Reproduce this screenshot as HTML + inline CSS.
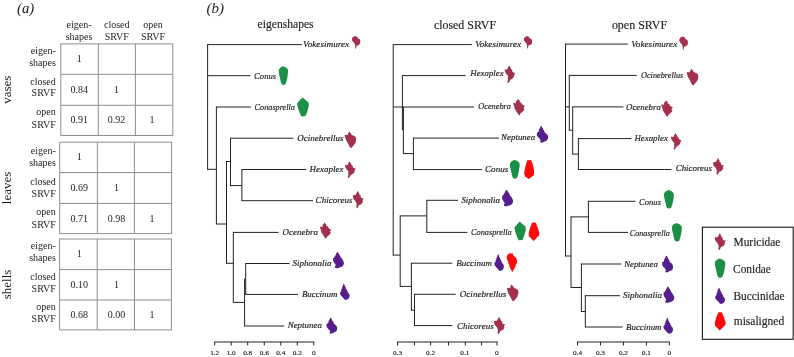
<!DOCTYPE html>
<html lang="en">
<head>
<meta charset="utf-8">
<title>Figure: correlation tables and dendrograms</title>
<style>
html,body{margin:0;padding:0;background:#fff;}
body{width:794px;height:357px;overflow:hidden;font-family:"Liberation Serif","Times New Roman",serif;}
svg{display:block;}
</style>
</head>
<body>
<svg width="794" height="357" viewBox="0 0 794 357" font-family="'Liberation Serif', 'Times New Roman', serif">
<rect width="794" height="357" fill="#ffffff"/>
<text x="17.00" y="12.60" font-size="14" text-anchor="start" font-style="italic" textLength="17.30" lengthAdjust="spacingAndGlyphs" fill="#1c1c1c">(a)</text>
<text x="79.00" y="28.30" font-size="10" text-anchor="middle" fill="#1c1c1c">eigen-</text>
<text x="79.00" y="40.30" font-size="10" text-anchor="middle" fill="#1c1c1c">shapes</text>
<text x="116.80" y="28.30" font-size="10" text-anchor="middle" fill="#1c1c1c">closed</text>
<text x="116.80" y="40.30" font-size="10" text-anchor="middle" fill="#1c1c1c">SRVF</text>
<text x="153.00" y="28.30" font-size="10" text-anchor="middle" fill="#1c1c1c">open</text>
<text x="153.00" y="40.30" font-size="10" text-anchor="middle" fill="#1c1c1c">SRVF</text>
<rect x="60.8" y="43.9" width="112.00" height="91.60" fill="none" stroke="#8e8e8e" stroke-width="1"/>
<line x1="60.80" y1="74.30" x2="172.80" y2="74.30" stroke="#8e8e8e" stroke-width="1"/>
<line x1="60.80" y1="105.30" x2="172.80" y2="105.30" stroke="#8e8e8e" stroke-width="1"/>
<line x1="98.30" y1="43.90" x2="98.30" y2="135.50" stroke="#8e8e8e" stroke-width="1"/>
<line x1="135.40" y1="43.90" x2="135.40" y2="135.50" stroke="#8e8e8e" stroke-width="1"/>
<text x="55.80" y="53.70" font-size="10" text-anchor="end" fill="#1c1c1c">eigen-</text>
<text x="55.80" y="65.70" font-size="10" text-anchor="end" fill="#1c1c1c">shapes</text>
<text x="79.20" y="62.20" font-size="10" text-anchor="middle" fill="#1c1c1c">1</text>
<text x="55.80" y="84.60" font-size="10" text-anchor="end" fill="#1c1c1c">closed</text>
<text x="55.80" y="96.40" font-size="10" text-anchor="end" fill="#1c1c1c">SRVF</text>
<text x="79.20" y="92.70" font-size="10" text-anchor="middle" fill="#1c1c1c">0.84</text>
<text x="116.50" y="92.70" font-size="10" text-anchor="middle" fill="#1c1c1c">1</text>
<text x="55.80" y="115.30" font-size="10" text-anchor="end" fill="#1c1c1c">open</text>
<text x="55.80" y="127.70" font-size="10" text-anchor="end" fill="#1c1c1c">SRVF</text>
<text x="79.20" y="123.40" font-size="10" text-anchor="middle" fill="#1c1c1c">0.91</text>
<text x="116.50" y="123.40" font-size="10" text-anchor="middle" fill="#1c1c1c">0.92</text>
<text x="152.10" y="123.40" font-size="10" text-anchor="middle" fill="#1c1c1c">1</text>
<text transform="translate(11.4,89.70) rotate(-90)" font-size="13" text-anchor="middle" fill="#1c1c1c">vases</text>
<rect x="59.7" y="142.2" width="111.90" height="91.40" fill="none" stroke="#8e8e8e" stroke-width="1"/>
<line x1="59.70" y1="172.60" x2="171.60" y2="172.60" stroke="#8e8e8e" stroke-width="1"/>
<line x1="59.70" y1="203.40" x2="171.60" y2="203.40" stroke="#8e8e8e" stroke-width="1"/>
<line x1="97.40" y1="142.20" x2="97.40" y2="233.60" stroke="#8e8e8e" stroke-width="1"/>
<line x1="134.40" y1="142.20" x2="134.40" y2="233.60" stroke="#8e8e8e" stroke-width="1"/>
<text x="55.80" y="153.60" font-size="10" text-anchor="end" fill="#1c1c1c">eigen-</text>
<text x="55.80" y="165.70" font-size="10" text-anchor="end" fill="#1c1c1c">shapes</text>
<text x="79.20" y="160.40" font-size="10" text-anchor="middle" fill="#1c1c1c">1</text>
<text x="55.80" y="184.80" font-size="10" text-anchor="end" fill="#1c1c1c">closed</text>
<text x="55.80" y="196.80" font-size="10" text-anchor="end" fill="#1c1c1c">SRVF</text>
<text x="79.20" y="191.10" font-size="10" text-anchor="middle" fill="#1c1c1c">0.69</text>
<text x="116.50" y="191.10" font-size="10" text-anchor="middle" fill="#1c1c1c">1</text>
<text x="55.80" y="215.40" font-size="10" text-anchor="end" fill="#1c1c1c">open</text>
<text x="55.80" y="227.90" font-size="10" text-anchor="end" fill="#1c1c1c">SRVF</text>
<text x="79.20" y="221.70" font-size="10" text-anchor="middle" fill="#1c1c1c">0.71</text>
<text x="116.50" y="221.70" font-size="10" text-anchor="middle" fill="#1c1c1c">0.98</text>
<text x="152.10" y="221.70" font-size="10" text-anchor="middle" fill="#1c1c1c">1</text>
<text transform="translate(11.4,187.90) rotate(-90)" font-size="13" text-anchor="middle" fill="#1c1c1c">leaves</text>
<rect x="59.6" y="239.0" width="111.80" height="90.90" fill="none" stroke="#8e8e8e" stroke-width="1"/>
<line x1="59.60" y1="269.60" x2="171.40" y2="269.60" stroke="#8e8e8e" stroke-width="1"/>
<line x1="59.60" y1="300.00" x2="171.40" y2="300.00" stroke="#8e8e8e" stroke-width="1"/>
<line x1="97.20" y1="239.00" x2="97.20" y2="329.90" stroke="#8e8e8e" stroke-width="1"/>
<line x1="134.50" y1="239.00" x2="134.50" y2="329.90" stroke="#8e8e8e" stroke-width="1"/>
<text x="55.80" y="248.60" font-size="10" text-anchor="end" fill="#1c1c1c">eigen-</text>
<text x="55.80" y="260.70" font-size="10" text-anchor="end" fill="#1c1c1c">shapes</text>
<text x="79.20" y="257.20" font-size="10" text-anchor="middle" fill="#1c1c1c">1</text>
<text x="55.80" y="279.60" font-size="10" text-anchor="end" fill="#1c1c1c">closed</text>
<text x="55.80" y="291.60" font-size="10" text-anchor="end" fill="#1c1c1c">SRVF</text>
<text x="79.20" y="287.70" font-size="10" text-anchor="middle" fill="#1c1c1c">0.10</text>
<text x="116.50" y="287.70" font-size="10" text-anchor="middle" fill="#1c1c1c">1</text>
<text x="55.80" y="310.20" font-size="10" text-anchor="end" fill="#1c1c1c">open</text>
<text x="55.80" y="322.20" font-size="10" text-anchor="end" fill="#1c1c1c">SRVF</text>
<text x="79.20" y="318.30" font-size="10" text-anchor="middle" fill="#1c1c1c">0.68</text>
<text x="116.50" y="318.30" font-size="10" text-anchor="middle" fill="#1c1c1c">0.00</text>
<text x="152.10" y="318.30" font-size="10" text-anchor="middle" fill="#1c1c1c">1</text>
<text transform="translate(11.4,284.45) rotate(-90)" font-size="13" text-anchor="middle" fill="#1c1c1c">shells</text>
<text x="206.40" y="12.50" font-size="14" text-anchor="start" font-style="italic" textLength="17.50" lengthAdjust="spacingAndGlyphs" fill="#1c1c1c">(b)</text>
<text x="257.60" y="27.70" font-size="12" text-anchor="start" textLength="56.00" lengthAdjust="spacingAndGlyphs" fill="#1c1c1c" stroke="#1c1c1c" stroke-width="0.15">eigenshapes</text>
<text x="433.90" y="29.20" font-size="12" text-anchor="start" textLength="62.20" lengthAdjust="spacingAndGlyphs" fill="#1c1c1c" stroke="#1c1c1c" stroke-width="0.15">closed SRVF</text>
<text x="611.90" y="28.50" font-size="12" text-anchor="start" textLength="55.20" lengthAdjust="spacingAndGlyphs" fill="#1c1c1c" stroke="#1c1c1c" stroke-width="0.15">open SRVF</text>
<line x1="207.60" y1="44.10" x2="207.60" y2="169.80" stroke="#222222" stroke-width="1.0"/>
<line x1="207.60" y1="44.60" x2="301.90" y2="44.60" stroke="#222222" stroke-width="1.0"/>
<text x="303.10" y="46.50" font-size="9.2" text-anchor="start" font-style="italic" textLength="46.10" lengthAdjust="spacingAndGlyphs" fill="#1c1c1c" stroke="#1c1c1c" stroke-width="0.18">Vokesimurex</text>
<path transform="translate(351.80,35.90) scale(1.0000,1.0159)" d="M3.5,0 L5.6,1 L6.1,2.5 L7.8,3 L8.6,5.1 L8.3,7.6 L6.6,9.1 L4.8,9.6 L4.15,12.6 L3.55,12.6 L3.4,9.3 L2.8,7.6 L1.5,6.1 L0.25,4.5 L0.25,2.3 L1.5,0.8 Z" fill="#a3304f"/>
<line x1="207.60" y1="75.70" x2="250.40" y2="75.70" stroke="#222222" stroke-width="1.0"/>
<text x="254.10" y="78.50" font-size="9.2" text-anchor="start" font-style="italic" textLength="22.00" lengthAdjust="spacingAndGlyphs" fill="#1c1c1c" stroke="#1c1c1c" stroke-width="0.18">Conus</text>
<path transform="translate(278.75,66.30) scale(1.0000,1.0000)" d="M4.15,0 L6.8,0.9 L9,2.9 L9.35,5.4 L8.7,10.6 L7.7,15.1 L6.8,17.7 L5.2,18.6 L3.2,18.3 L2.3,16.4 L1.3,11.9 L0.1,6.1 L0.1,3.2 L1.9,1.2 Z" fill="#1a8f45"/>
<line x1="207.60" y1="169.30" x2="216.40" y2="169.30" stroke="#222222" stroke-width="1.0"/>
<line x1="216.40" y1="106.50" x2="216.40" y2="224.50" stroke="#222222" stroke-width="1.0"/>
<line x1="216.40" y1="107.00" x2="250.85" y2="107.00" stroke="#222222" stroke-width="1.0"/>
<text x="254.60" y="110.40" font-size="9.2" text-anchor="start" font-style="italic" textLength="40.30" lengthAdjust="spacingAndGlyphs" fill="#1c1c1c" stroke="#1c1c1c" stroke-width="0.18">Conasprella</text>
<path transform="translate(297.00,97.50) scale(1.0000,1.0000)" d="M5.5,0 L8.5,2.6 L11.6,5.1 L11.8,8.6 L10.1,14.7 L8.3,18.7 L4.5,18.9 L3,16.2 L1,10.6 L0,6.1 L2,3.6 Z" fill="#1a8f45"/>
<line x1="216.40" y1="224.00" x2="226.50" y2="224.00" stroke="#222222" stroke-width="1.0"/>
<line x1="226.50" y1="161.00" x2="226.50" y2="263.80" stroke="#222222" stroke-width="1.0"/>
<line x1="226.50" y1="161.50" x2="230.50" y2="161.50" stroke="#222222" stroke-width="1.0"/>
<line x1="230.50" y1="137.70" x2="230.50" y2="186.10" stroke="#222222" stroke-width="1.0"/>
<line x1="230.50" y1="138.20" x2="293.50" y2="138.20" stroke="#222222" stroke-width="1.0"/>
<text x="297.30" y="140.80" font-size="9.2" text-anchor="start" font-style="italic" textLength="46.20" lengthAdjust="spacingAndGlyphs" fill="#1c1c1c" stroke="#1c1c1c" stroke-width="0.18">Ocinebrellus</text>
<path transform="translate(344.60,131.35) scale(1.0000,1.0000)" d="M4.75,0 L5.55,1.35 L6.8,2.3 L6.6,3.1 L8,3.8 L9.25,4.3 L10.5,5.05 L11.4,6.3 L11.5,8.45 L11.1,10.3 L10.5,12.15 L9.25,13.7 L8,15.2 L6.8,16.75 L5.55,16.15 L4.6,14.6 L3.7,12.75 L2.75,10.9 L1.85,9.35 L0.9,7.5 L0.79,6.35 L0.2,5.35 L0,3.8 L1.25,3.35 L2.45,3.8 L3.4,2.9 L3.9,1.35 Z" fill="#a3304f"/>
<line x1="230.50" y1="185.60" x2="241.90" y2="185.60" stroke="#222222" stroke-width="1.0"/>
<line x1="241.90" y1="169.00" x2="241.90" y2="201.20" stroke="#222222" stroke-width="1.0"/>
<line x1="241.90" y1="169.50" x2="306.10" y2="169.50" stroke="#222222" stroke-width="1.0"/>
<text x="309.60" y="171.90" font-size="9.2" text-anchor="start" font-style="italic" textLength="33.80" lengthAdjust="spacingAndGlyphs" fill="#1c1c1c" stroke="#1c1c1c" stroke-width="0.18">Hexaplex</text>
<path transform="translate(344.80,161.15) scale(1.0000,1.0000)" d="M4.75,0 L5.65,1.85 L6.6,2.75 L6.4,3.7 L7.8,4.3 L7.8,5.55 L8.85,6.8 L10.9,7.4 L10,8.95 L9.65,10.8 L8.45,12.3 L6.9,13.25 L5.65,14 L5.05,15.4 L3.8,17.05 L2.9,16.65 L3.2,15.1 L3.7,13.55 L3.3,12 L3.7,10.45 L2.9,9.25 L1.35,7.7 L0.45,5.85 L0,4 L1.05,3.9 L2.3,4.3 L3.2,3.1 L3.8,1.55 Z" fill="#a3304f"/>
<line x1="241.90" y1="200.70" x2="313.10" y2="200.70" stroke="#222222" stroke-width="1.0"/>
<text x="315.60" y="203.20" font-size="9.2" text-anchor="start" font-style="italic" textLength="36.90" lengthAdjust="spacingAndGlyphs" fill="#1c1c1c" stroke="#1c1c1c" stroke-width="0.18">Chicoreus</text>
<path transform="translate(352.80,190.80) scale(1.0000,1.0265)" d="M5.1,0 L6,2.15 L6.8,3.1 L6.45,4 L8,4.6 L7.8,5.85 L8.6,7.1 L10.9,7.4 L9.85,8.95 L10.05,10.8 L8.95,12.65 L7.4,13.55 L6.15,13.85 L5.55,15.4 L4.6,16.95 L3.7,16.65 L3.5,15.1 L3.9,13.55 L3.5,12 L2.75,10.15 L1.25,8.6 L0.3,6.8 L0,4.6 L0.9,4 L2.15,4.3 L3.4,3.1 L4,1.55 Z" fill="#a3304f"/>
<line x1="226.50" y1="263.30" x2="233.30" y2="263.30" stroke="#222222" stroke-width="1.0"/>
<line x1="233.30" y1="231.90" x2="233.30" y2="302.90" stroke="#222222" stroke-width="1.0"/>
<line x1="233.30" y1="232.40" x2="278.60" y2="232.40" stroke="#222222" stroke-width="1.0"/>
<text x="282.60" y="234.80" font-size="9.2" text-anchor="start" font-style="italic" textLength="35.30" lengthAdjust="spacingAndGlyphs" fill="#1c1c1c" stroke="#1c1c1c" stroke-width="0.18">Ocenebra</text>
<path transform="translate(319.80,222.50) scale(1.0000,1.0125)" d="M4.75,0 L5.35,1.25 L6.3,1.35 L6.6,2.15 L6.15,2.75 L7.2,3.7 L8.15,3.7 L8.25,4.95 L9.65,6.15 L11.5,7.1 L10.6,8.3 L10,8.95 L11.1,10.15 L10.3,11.4 L9.05,12.65 L7.8,13.55 L6.9,14.5 L6.4,16 L5.35,15.4 L4.45,14.2 L3.8,12.95 L2.6,11.4 L1.65,9.85 L1.25,8 L0.75,6.45 L0,4.3 L1.05,4 L2.3,4.6 L2.9,3.4 L2.6,2.45 L3.7,1.85 L4.15,0.9 Z" fill="#a3304f"/>
<line x1="233.30" y1="302.40" x2="244.60" y2="302.40" stroke="#222222" stroke-width="1.0"/>
<line x1="244.60" y1="278.40" x2="244.60" y2="326.50" stroke="#222222" stroke-width="1.0"/>
<line x1="245.70" y1="263.00" x2="245.70" y2="294.90" stroke="#222222" stroke-width="1.0"/>
<line x1="245.70" y1="263.50" x2="289.60" y2="263.50" stroke="#222222" stroke-width="1.0"/>
<text x="292.60" y="265.90" font-size="9.2" text-anchor="start" font-style="italic" textLength="38.90" lengthAdjust="spacingAndGlyphs" fill="#1c1c1c" stroke="#1c1c1c" stroke-width="0.18">Siphonalia</text>
<path transform="translate(333.05,251.70) scale(1.0000,1.0123)" d="M4.3,0 L5.4,1.55 L6.65,3.4 L7.6,4.95 L7.45,5.55 L8.8,6.8 L9.75,8.3 L10.65,10.15 L10.85,12 L10.05,13.85 L8.5,15.1 L6.35,15.7 L4.2,16.3 L2.2,16.15 L1.85,14.8 L2.65,13.25 L1.7,11.7 L0.6,10.15 L0,8.3 L0.2,6.45 L1.4,5.25 L2.35,3.7 L3.25,1.85 Z" fill="#551e8c"/>
<line x1="245.70" y1="294.40" x2="298.00" y2="294.40" stroke="#222222" stroke-width="1.0"/>
<text x="301.90" y="297.00" font-size="9.2" text-anchor="start" font-style="italic" textLength="35.40" lengthAdjust="spacingAndGlyphs" fill="#1c1c1c" stroke="#1c1c1c" stroke-width="0.18">Buccinum</text>
<path transform="translate(340.05,283.40) scale(1.0000,1.0000)" d="M3.7,0 L4.85,2 L4.5,2.6 L5.9,4.2 L5.55,4.8 L6.9,6.2 L6.55,6.9 L7.9,8.2 L7.55,9 L8.75,9.85 L9.5,11.7 L9.35,13.85 L8.15,15.7 L6,16.65 L4.45,16.2 L3.2,14.5 L1.65,12.95 L0.1,11.1 L0,9.25 L0.85,8 L1.5,6.8 L1.15,6.1 L2.3,4.6 L2,3.9 L2.9,2.3 L2.9,1.85 Z" fill="#551e8c"/>
<line x1="244.60" y1="326.00" x2="284.30" y2="326.00" stroke="#222222" stroke-width="1.0"/>
<text x="287.70" y="328.40" font-size="9.2" text-anchor="start" font-style="italic" textLength="34.20" lengthAdjust="spacingAndGlyphs" fill="#1c1c1c" stroke="#1c1c1c" stroke-width="0.18">Neptunea</text>
<path transform="translate(326.40,317.40) scale(1.0000,1.0000)" d="M4.15,0 L5.2,1.55 L6,2.75 L5.8,3.25 L6.9,4.3 L7.5,5.55 L7.2,6 L8.6,7.1 L10,8.3 L10.7,10.15 L10.7,12.3 L9.65,14.2 L7.5,15.1 L5.35,16.2 L3.8,16.45 L3.2,15.4 L3.8,14.2 L2.9,12.6 L1.65,11.4 L0.45,9.85 L0,8 L0.45,6.45 L1.65,5.75 L2.3,4.3 L1.95,3.9 L3.1,2.45 L3.35,1.25 Z" fill="#551e8c"/>
<line x1="214.20" y1="342.00" x2="314.30" y2="342.00" stroke="#222222" stroke-width="1.0"/>
<line x1="214.70" y1="342.00" x2="214.70" y2="345.50" stroke="#222222" stroke-width="1.0"/>
<text x="214.70" y="354.60" font-size="6.9" text-anchor="middle" textLength="9.10" lengthAdjust="spacingAndGlyphs" fill="#1c1c1c" stroke="#1c1c1c" stroke-width="0.15">1.2</text>
<line x1="231.22" y1="342.00" x2="231.22" y2="345.50" stroke="#222222" stroke-width="1.0"/>
<text x="231.22" y="354.60" font-size="6.9" text-anchor="middle" textLength="9.10" lengthAdjust="spacingAndGlyphs" fill="#1c1c1c" stroke="#1c1c1c" stroke-width="0.15">1.0</text>
<line x1="247.73" y1="342.00" x2="247.73" y2="345.50" stroke="#222222" stroke-width="1.0"/>
<text x="247.73" y="354.60" font-size="6.9" text-anchor="middle" textLength="9.10" lengthAdjust="spacingAndGlyphs" fill="#1c1c1c" stroke="#1c1c1c" stroke-width="0.15">0.8</text>
<line x1="264.25" y1="342.00" x2="264.25" y2="345.50" stroke="#222222" stroke-width="1.0"/>
<text x="264.25" y="354.60" font-size="6.9" text-anchor="middle" textLength="9.10" lengthAdjust="spacingAndGlyphs" fill="#1c1c1c" stroke="#1c1c1c" stroke-width="0.15">0.6</text>
<line x1="280.77" y1="342.00" x2="280.77" y2="345.50" stroke="#222222" stroke-width="1.0"/>
<text x="280.77" y="354.60" font-size="6.9" text-anchor="middle" textLength="9.10" lengthAdjust="spacingAndGlyphs" fill="#1c1c1c" stroke="#1c1c1c" stroke-width="0.15">0.4</text>
<line x1="297.28" y1="342.00" x2="297.28" y2="345.50" stroke="#222222" stroke-width="1.0"/>
<text x="297.28" y="354.60" font-size="6.9" text-anchor="middle" textLength="9.10" lengthAdjust="spacingAndGlyphs" fill="#1c1c1c" stroke="#1c1c1c" stroke-width="0.15">0.2</text>
<line x1="313.80" y1="342.00" x2="313.80" y2="345.50" stroke="#222222" stroke-width="1.0"/>
<text x="313.80" y="354.60" font-size="6.9" text-anchor="middle" textLength="3.70" lengthAdjust="spacingAndGlyphs" fill="#1c1c1c" stroke="#1c1c1c" stroke-width="0.15">0</text>
<line x1="393.20" y1="44.10" x2="393.20" y2="255.60" stroke="#222222" stroke-width="1.0"/>
<line x1="393.20" y1="44.60" x2="471.90" y2="44.60" stroke="#222222" stroke-width="1.0"/>
<text x="475.20" y="46.70" font-size="9.2" text-anchor="start" font-style="italic" textLength="45.80" lengthAdjust="spacingAndGlyphs" fill="#1c1c1c" stroke="#1c1c1c" stroke-width="0.18">Vokesimurex</text>
<path transform="translate(523.70,36.10) scale(0.9884,0.9841)" d="M3.5,0 L5.6,1 L6.1,2.5 L7.8,3 L8.6,5.1 L8.3,7.6 L6.6,9.1 L4.8,9.6 L4.15,12.6 L3.55,12.6 L3.4,9.3 L2.8,7.6 L1.5,6.1 L0.25,4.5 L0.25,2.3 L1.5,0.8 Z" fill="#a3304f"/>
<line x1="402.40" y1="75.10" x2="402.40" y2="130.30" stroke="#222222" stroke-width="1.0"/>
<line x1="402.40" y1="75.60" x2="465.70" y2="75.60" stroke="#222222" stroke-width="1.0"/>
<text x="470.30" y="76.10" font-size="9.2" text-anchor="start" font-style="italic" textLength="33.30" lengthAdjust="spacingAndGlyphs" fill="#1c1c1c" stroke="#1c1c1c" stroke-width="0.18">Hexaplex</text>
<path transform="translate(504.50,65.40) scale(0.9908,1.0381)" d="M4.75,0 L5.65,1.85 L6.6,2.75 L6.4,3.7 L7.8,4.3 L7.8,5.55 L8.85,6.8 L10.9,7.4 L10,8.95 L9.65,10.8 L8.45,12.3 L6.9,13.25 L5.65,14 L5.05,15.4 L3.8,17.05 L2.9,16.65 L3.2,15.1 L3.7,13.55 L3.3,12 L3.7,10.45 L2.9,9.25 L1.35,7.7 L0.45,5.85 L0,4 L1.05,3.9 L2.3,4.3 L3.2,3.1 L3.8,1.55 Z" fill="#a3304f"/>
<line x1="403.40" y1="107.00" x2="403.40" y2="154.10" stroke="#222222" stroke-width="1.0"/>
<line x1="393.20" y1="107.00" x2="474.00" y2="107.00" stroke="#222222" stroke-width="1.0"/>
<text x="478.30" y="109.30" font-size="9.2" text-anchor="start" font-style="italic" textLength="32.60" lengthAdjust="spacingAndGlyphs" fill="#1c1c1c" stroke="#1c1c1c" stroke-width="0.18">Ocenebra</text>
<path transform="translate(513.10,98.70) scale(1.0261,1.0437)" d="M4.75,0 L5.35,1.25 L6.3,1.35 L6.6,2.15 L6.15,2.75 L7.2,3.7 L8.15,3.7 L8.25,4.95 L9.65,6.15 L11.5,7.1 L10.6,8.3 L10,8.95 L11.1,10.15 L10.3,11.4 L9.05,12.65 L7.8,13.55 L6.9,14.5 L6.4,16 L5.35,15.4 L4.45,14.2 L3.8,12.95 L2.6,11.4 L1.65,9.85 L1.25,8 L0.75,6.45 L0,4.3 L1.05,4 L2.3,4.6 L2.9,3.4 L2.6,2.45 L3.7,1.85 L4.15,0.9 Z" fill="#a3304f"/>
<line x1="403.40" y1="153.60" x2="413.40" y2="153.60" stroke="#222222" stroke-width="1.0"/>
<line x1="413.40" y1="137.60" x2="413.40" y2="170.10" stroke="#222222" stroke-width="1.0"/>
<line x1="413.40" y1="138.10" x2="499.00" y2="138.10" stroke="#222222" stroke-width="1.0"/>
<text x="501.10" y="139.90" font-size="9.2" text-anchor="start" font-style="italic" textLength="34.10" lengthAdjust="spacingAndGlyphs" fill="#1c1c1c" stroke="#1c1c1c" stroke-width="0.18">Neptunea</text>
<path transform="translate(536.70,125.80) scale(1.0561,1.0334)" d="M4.15,0 L5.2,1.55 L6,2.75 L5.8,3.25 L6.9,4.3 L7.5,5.55 L7.2,6 L8.6,7.1 L10,8.3 L10.7,10.15 L10.7,12.3 L9.65,14.2 L7.5,15.1 L5.35,16.2 L3.8,16.45 L3.2,15.4 L3.8,14.2 L2.9,12.6 L1.65,11.4 L0.45,9.85 L0,8 L0.45,6.45 L1.65,5.75 L2.3,4.3 L1.95,3.9 L3.1,2.45 L3.35,1.25 Z" fill="#551e8c"/>
<line x1="413.40" y1="169.60" x2="482.20" y2="169.60" stroke="#222222" stroke-width="1.0"/>
<text x="485.00" y="172.00" font-size="9.2" text-anchor="start" font-style="italic" textLength="23.30" lengthAdjust="spacingAndGlyphs" fill="#1c1c1c" stroke="#1c1c1c" stroke-width="0.18">Conus</text>
<path transform="translate(509.90,159.90) scale(1.0481,1.0108)" d="M4.15,0 L6.8,0.9 L9,2.9 L9.35,5.4 L8.7,10.6 L7.7,15.1 L6.8,17.7 L5.2,18.6 L3.2,18.3 L2.3,16.4 L1.3,11.9 L0.1,6.1 L0.1,3.2 L1.9,1.2 Z" fill="#1a8f45"/>
<path transform="translate(524.20,160.00) scale(1.0000,1.0000)" d="M3.1,0.3 L6.9,0 L8.6,4.2 L9.8,10.1 L9.8,15.1 L6.9,17.2 L4.4,18.9 L1,16.4 L0,13.9 L0.6,9.2 L1.8,4.2 Z" fill="#ff0a0a"/>
<line x1="393.20" y1="255.10" x2="400.20" y2="255.10" stroke="#222222" stroke-width="1.0"/>
<line x1="400.20" y1="215.40" x2="400.20" y2="286.90" stroke="#222222" stroke-width="1.0"/>
<line x1="400.20" y1="215.90" x2="426.80" y2="215.90" stroke="#222222" stroke-width="1.0"/>
<line x1="426.80" y1="199.80" x2="426.80" y2="232.90" stroke="#222222" stroke-width="1.0"/>
<line x1="426.80" y1="200.30" x2="458.00" y2="200.30" stroke="#222222" stroke-width="1.0"/>
<text x="461.40" y="202.90" font-size="9.2" text-anchor="start" font-style="italic" textLength="38.60" lengthAdjust="spacingAndGlyphs" fill="#1c1c1c" stroke="#1c1c1c" stroke-width="0.18">Siphonalia</text>
<path transform="translate(502.00,189.40) scale(1.0230,1.0368)" d="M4.3,0 L5.4,1.55 L6.65,3.4 L7.6,4.95 L7.45,5.55 L8.8,6.8 L9.75,8.3 L10.65,10.15 L10.85,12 L10.05,13.85 L8.5,15.1 L6.35,15.7 L4.2,16.3 L2.2,16.15 L1.85,14.8 L2.65,13.25 L1.7,11.7 L0.6,10.15 L0,8.3 L0.2,6.45 L1.4,5.25 L2.35,3.7 L3.25,1.85 Z" fill="#551e8c"/>
<line x1="426.80" y1="232.40" x2="467.40" y2="232.40" stroke="#222222" stroke-width="1.0"/>
<text x="471.00" y="234.70" font-size="9.2" text-anchor="start" font-style="italic" textLength="40.70" lengthAdjust="spacingAndGlyphs" fill="#1c1c1c" stroke="#1c1c1c" stroke-width="0.18">Conasprella</text>
<path transform="translate(514.40,221.60) scale(0.9661,0.9841)" d="M5.5,0 L8.5,2.6 L11.6,5.1 L11.8,8.6 L10.1,14.7 L8.3,18.7 L4.5,18.9 L3,16.2 L1,10.6 L0,6.1 L2,3.6 Z" fill="#1a8f45"/>
<path transform="translate(528.50,222.10) scale(1.0000,1.0000)" d="M3.8,0.3 L7.1,0.3 L9.2,5.5 L10.9,10.9 L10.5,13.4 L5,18.9 L0.4,13.9 L0.3,10.5 L1.7,5.5 Z" fill="#ff0a0a"/>
<line x1="400.20" y1="286.40" x2="411.40" y2="286.40" stroke="#222222" stroke-width="1.0"/>
<line x1="411.40" y1="262.70" x2="411.40" y2="310.70" stroke="#222222" stroke-width="1.0"/>
<line x1="411.40" y1="263.20" x2="452.30" y2="263.20" stroke="#222222" stroke-width="1.0"/>
<text x="456.20" y="265.80" font-size="9.2" text-anchor="start" font-style="italic" textLength="35.80" lengthAdjust="spacingAndGlyphs" fill="#1c1c1c" stroke="#1c1c1c" stroke-width="0.18">Buccinum</text>
<path transform="translate(494.40,253.90) scale(1.0000,1.0210)" d="M3.7,0 L4.85,2 L4.5,2.6 L5.9,4.2 L5.55,4.8 L6.9,6.2 L6.55,6.9 L7.9,8.2 L7.55,9 L8.75,9.85 L9.5,11.7 L9.35,13.85 L8.15,15.7 L6,16.65 L4.45,16.2 L3.2,14.5 L1.65,12.95 L0.1,11.1 L0,9.25 L0.85,8 L1.5,6.8 L1.15,6.1 L2.3,4.6 L2,3.9 L2.9,2.3 L2.9,1.85 Z" fill="#551e8c"/>
<path transform="translate(506.67,253.15) scale(1.0000,1.0000)" d="M1.1,1.25 L2.95,0.2 L4.8,0.3 L5.75,0 L6.55,1.25 L6.95,2.75 L8.2,3.7 L9.45,4.95 L10.35,6.8 L10.45,8.95 L9.75,10.8 L9.1,11.1 L9.1,12.65 L8.2,14.5 L6.95,16.65 L5.75,18.8 L4.8,17.55 L3.9,15.7 L2.95,13.55 L2.35,11.7 L1.6,10.15 L1.7,8.6 L0.8,7.4 L0.2,5.55 L0,3.4 Z" fill="#ff0a0a"/>
<line x1="411.40" y1="310.20" x2="414.50" y2="310.20" stroke="#222222" stroke-width="1.0"/>
<line x1="414.50" y1="293.80" x2="414.50" y2="326.10" stroke="#222222" stroke-width="1.0"/>
<line x1="414.50" y1="294.30" x2="455.60" y2="294.30" stroke="#222222" stroke-width="1.0"/>
<text x="459.80" y="296.90" font-size="9.2" text-anchor="start" font-style="italic" textLength="46.50" lengthAdjust="spacingAndGlyphs" fill="#1c1c1c" stroke="#1c1c1c" stroke-width="0.18">Ocinebrellus</text>
<path transform="translate(506.90,284.50) scale(1.0000,1.0030)" d="M4.75,0 L5.55,1.35 L6.8,2.3 L6.6,3.1 L8,3.8 L9.25,4.3 L10.5,5.05 L11.4,6.3 L11.5,8.45 L11.1,10.3 L10.5,12.15 L9.25,13.7 L8,15.2 L6.8,16.75 L5.55,16.15 L4.6,14.6 L3.7,12.75 L2.75,10.9 L1.85,9.35 L0.9,7.5 L0.79,6.35 L0.2,5.35 L0,3.8 L1.25,3.35 L2.45,3.8 L3.4,2.9 L3.9,1.35 Z" fill="#a3304f"/>
<line x1="414.50" y1="325.60" x2="452.30" y2="325.60" stroke="#222222" stroke-width="1.0"/>
<text x="457.00" y="328.50" font-size="9.2" text-anchor="start" font-style="italic" textLength="36.70" lengthAdjust="spacingAndGlyphs" fill="#1c1c1c" stroke="#1c1c1c" stroke-width="0.18">Chicoreus</text>
<path transform="translate(494.00,316.70) scale(1.0275,1.0265)" d="M5.1,0 L6,2.15 L6.8,3.1 L6.45,4 L8,4.6 L7.8,5.85 L8.6,7.1 L10.9,7.4 L9.85,8.95 L10.05,10.8 L8.95,12.65 L7.4,13.55 L6.15,13.85 L5.55,15.4 L4.6,16.95 L3.7,16.65 L3.5,15.1 L3.9,13.55 L3.5,12 L2.75,10.15 L1.25,8.6 L0.3,6.8 L0,4.6 L0.9,4 L2.15,4.3 L3.4,3.1 L4,1.55 Z" fill="#a3304f"/>
<line x1="397.00" y1="342.00" x2="497.60" y2="342.00" stroke="#222222" stroke-width="1.0"/>
<line x1="397.50" y1="342.00" x2="397.50" y2="345.50" stroke="#222222" stroke-width="1.0"/>
<line x1="414.50" y1="342.00" x2="414.50" y2="345.50" stroke="#222222" stroke-width="1.0"/>
<line x1="430.60" y1="342.00" x2="430.60" y2="345.50" stroke="#222222" stroke-width="1.0"/>
<line x1="448.50" y1="342.00" x2="448.50" y2="345.50" stroke="#222222" stroke-width="1.0"/>
<line x1="465.30" y1="342.00" x2="465.30" y2="345.50" stroke="#222222" stroke-width="1.0"/>
<line x1="481.60" y1="342.00" x2="481.60" y2="345.50" stroke="#222222" stroke-width="1.0"/>
<line x1="497.00" y1="342.00" x2="497.00" y2="345.50" stroke="#222222" stroke-width="1.0"/>
<text x="397.50" y="354.60" font-size="6.9" text-anchor="middle" textLength="9.10" lengthAdjust="spacingAndGlyphs" fill="#1c1c1c" stroke="#1c1c1c" stroke-width="0.15">0.3</text>
<text x="430.60" y="354.60" font-size="6.9" text-anchor="middle" textLength="9.10" lengthAdjust="spacingAndGlyphs" fill="#1c1c1c" stroke="#1c1c1c" stroke-width="0.15">0.2</text>
<text x="464.90" y="354.60" font-size="6.9" text-anchor="middle" textLength="9.10" lengthAdjust="spacingAndGlyphs" fill="#1c1c1c" stroke="#1c1c1c" stroke-width="0.15">0.1</text>
<text x="496.90" y="354.60" font-size="6.9" text-anchor="middle" textLength="3.70" lengthAdjust="spacingAndGlyphs" fill="#1c1c1c" stroke="#1c1c1c" stroke-width="0.15">0</text>
<line x1="565.50" y1="43.60" x2="565.50" y2="256.50" stroke="#222222" stroke-width="1.0"/>
<line x1="565.50" y1="44.10" x2="627.90" y2="44.10" stroke="#222222" stroke-width="1.0"/>
<text x="631.30" y="46.50" font-size="9.2" text-anchor="start" font-style="italic" textLength="45.90" lengthAdjust="spacingAndGlyphs" fill="#1c1c1c" stroke="#1c1c1c" stroke-width="0.18">Vokesimurex</text>
<path transform="translate(679.10,36.40) scale(1.0349,1.0794)" d="M3.5,0 L5.6,1 L6.1,2.5 L7.8,3 L8.6,5.1 L8.3,7.6 L6.6,9.1 L4.8,9.6 L4.15,12.6 L3.55,12.6 L3.4,9.3 L2.8,7.6 L1.5,6.1 L0.25,4.5 L0.25,2.3 L1.5,0.8 Z" fill="#a3304f"/>
<line x1="565.50" y1="106.90" x2="569.30" y2="106.90" stroke="#222222" stroke-width="1.0"/>
<line x1="569.30" y1="74.90" x2="569.30" y2="130.70" stroke="#222222" stroke-width="1.0"/>
<line x1="569.30" y1="75.40" x2="636.70" y2="75.40" stroke="#222222" stroke-width="1.0"/>
<text x="641.00" y="77.80" font-size="9.2" text-anchor="start" font-style="italic" textLength="42.30" lengthAdjust="spacingAndGlyphs" fill="#1c1c1c" stroke="#1c1c1c" stroke-width="0.18">Ocinebrellus</text>
<path transform="translate(686.70,68.70) scale(1.0087,0.9970)" d="M4.75,0 L5.55,1.35 L6.8,2.3 L6.6,3.1 L8,3.8 L9.25,4.3 L10.5,5.05 L11.4,6.3 L11.5,8.45 L11.1,10.3 L10.5,12.15 L9.25,13.7 L8,15.2 L6.8,16.75 L5.55,16.15 L4.6,14.6 L3.7,12.75 L2.75,10.9 L1.85,9.35 L0.9,7.5 L0.79,6.35 L0.2,5.35 L0,3.8 L1.25,3.35 L2.45,3.8 L3.4,2.9 L3.9,1.35 Z" fill="#a3304f"/>
<line x1="569.30" y1="130.20" x2="572.70" y2="130.20" stroke="#222222" stroke-width="1.0"/>
<line x1="572.70" y1="106.40" x2="572.70" y2="154.60" stroke="#222222" stroke-width="1.0"/>
<line x1="572.70" y1="106.90" x2="623.40" y2="106.90" stroke="#222222" stroke-width="1.0"/>
<text x="626.10" y="109.80" font-size="9.2" text-anchor="start" font-style="italic" textLength="34.70" lengthAdjust="spacingAndGlyphs" fill="#1c1c1c" stroke="#1c1c1c" stroke-width="0.18">Ocenebra</text>
<path transform="translate(661.20,100.20) scale(1.0174,1.0375)" d="M4.75,0 L5.35,1.25 L6.3,1.35 L6.6,2.15 L6.15,2.75 L7.2,3.7 L8.15,3.7 L8.25,4.95 L9.65,6.15 L11.5,7.1 L10.6,8.3 L10,8.95 L11.1,10.15 L10.3,11.4 L9.05,12.65 L7.8,13.55 L6.9,14.5 L6.4,16 L5.35,15.4 L4.45,14.2 L3.8,12.95 L2.6,11.4 L1.65,9.85 L1.25,8 L0.75,6.45 L0,4.3 L1.05,4 L2.3,4.6 L2.9,3.4 L2.6,2.45 L3.7,1.85 L4.15,0.9 Z" fill="#a3304f"/>
<line x1="572.70" y1="154.10" x2="578.40" y2="154.10" stroke="#222222" stroke-width="1.0"/>
<line x1="578.40" y1="138.10" x2="578.40" y2="170.00" stroke="#222222" stroke-width="1.0"/>
<line x1="578.40" y1="138.60" x2="631.30" y2="138.60" stroke="#222222" stroke-width="1.0"/>
<text x="634.50" y="141.20" font-size="9.2" text-anchor="start" font-style="italic" textLength="33.30" lengthAdjust="spacingAndGlyphs" fill="#1c1c1c" stroke="#1c1c1c" stroke-width="0.18">Hexaplex</text>
<path transform="translate(670.80,132.90) scale(0.9725,0.9853)" d="M4.75,0 L5.65,1.85 L6.6,2.75 L6.4,3.7 L7.8,4.3 L7.8,5.55 L8.85,6.8 L10.9,7.4 L10,8.95 L9.65,10.8 L8.45,12.3 L6.9,13.25 L5.65,14 L5.05,15.4 L3.8,17.05 L2.9,16.65 L3.2,15.1 L3.7,13.55 L3.3,12 L3.7,10.45 L2.9,9.25 L1.35,7.7 L0.45,5.85 L0,4 L1.05,3.9 L2.3,4.3 L3.2,3.1 L3.8,1.55 Z" fill="#a3304f"/>
<line x1="578.40" y1="169.50" x2="671.40" y2="169.50" stroke="#222222" stroke-width="1.0"/>
<text x="675.70" y="171.00" font-size="9.2" text-anchor="start" font-style="italic" textLength="36.30" lengthAdjust="spacingAndGlyphs" fill="#1c1c1c" stroke="#1c1c1c" stroke-width="0.18">Chicoreus</text>
<path transform="translate(713.00,157.90) scale(1.0000,0.9971)" d="M5.1,0 L6,2.15 L6.8,3.1 L6.45,4 L8,4.6 L7.8,5.85 L8.6,7.1 L10.9,7.4 L9.85,8.95 L10.05,10.8 L8.95,12.65 L7.4,13.55 L6.15,13.85 L5.55,15.4 L4.6,16.95 L3.7,16.65 L3.5,15.1 L3.9,13.55 L3.5,12 L2.75,10.15 L1.25,8.6 L0.3,6.8 L0,4.6 L0.9,4 L2.15,4.3 L3.4,3.1 L4,1.55 Z" fill="#a3304f"/>
<line x1="565.50" y1="256.00" x2="571.00" y2="256.00" stroke="#222222" stroke-width="1.0"/>
<line x1="571.00" y1="216.40" x2="571.00" y2="288.00" stroke="#222222" stroke-width="1.0"/>
<line x1="571.00" y1="216.90" x2="588.40" y2="216.90" stroke="#222222" stroke-width="1.0"/>
<line x1="588.40" y1="200.80" x2="588.40" y2="232.90" stroke="#222222" stroke-width="1.0"/>
<line x1="588.40" y1="201.30" x2="635.50" y2="201.30" stroke="#222222" stroke-width="1.0"/>
<text x="639.10" y="204.70" font-size="9.2" text-anchor="start" font-style="italic" textLength="21.90" lengthAdjust="spacingAndGlyphs" fill="#1c1c1c" stroke="#1c1c1c" stroke-width="0.18">Conus</text>
<path transform="translate(663.90,190.10) scale(1.0695,0.9946)" d="M4.15,0 L6.8,0.9 L9,2.9 L9.35,5.4 L8.7,10.6 L7.7,15.1 L6.8,17.7 L5.2,18.6 L3.2,18.3 L2.3,16.4 L1.3,11.9 L0.1,6.1 L0.1,3.2 L1.9,1.2 Z" fill="#1a8f45"/>
<line x1="588.40" y1="232.40" x2="628.10" y2="232.40" stroke="#222222" stroke-width="1.0"/>
<text x="629.70" y="235.70" font-size="9.2" text-anchor="start" font-style="italic" textLength="40.10" lengthAdjust="spacingAndGlyphs" fill="#1c1c1c" stroke="#1c1c1c" stroke-width="0.18">Conasprella</text>
<path transform="translate(671.90,223.10) scale(1.0695,0.9946)" d="M4.15,0 L6.8,0.9 L9,2.9 L9.35,5.4 L8.7,10.6 L7.7,15.1 L6.8,17.7 L5.2,18.6 L3.2,18.3 L2.3,16.4 L1.3,11.9 L0.1,6.1 L0.1,3.2 L1.9,1.2 Z" fill="#1a8f45"/>
<line x1="571.00" y1="287.50" x2="581.40" y2="287.50" stroke="#222222" stroke-width="1.0"/>
<line x1="581.40" y1="263.50" x2="581.40" y2="312.00" stroke="#222222" stroke-width="1.0"/>
<line x1="581.40" y1="264.00" x2="621.20" y2="264.00" stroke="#222222" stroke-width="1.0"/>
<text x="624.20" y="267.00" font-size="9.2" text-anchor="start" font-style="italic" textLength="33.60" lengthAdjust="spacingAndGlyphs" fill="#1c1c1c" stroke="#1c1c1c" stroke-width="0.18">Neptunea</text>
<path transform="translate(662.00,255.40) scale(1.0280,1.0395)" d="M4.15,0 L5.2,1.55 L6,2.75 L5.8,3.25 L6.9,4.3 L7.5,5.55 L7.2,6 L8.6,7.1 L10,8.3 L10.7,10.15 L10.7,12.3 L9.65,14.2 L7.5,15.1 L5.35,16.2 L3.8,16.45 L3.2,15.4 L3.8,14.2 L2.9,12.6 L1.65,11.4 L0.45,9.85 L0,8 L0.45,6.45 L1.65,5.75 L2.3,4.3 L1.95,3.9 L3.1,2.45 L3.35,1.25 Z" fill="#551e8c"/>
<line x1="581.40" y1="311.50" x2="585.30" y2="311.50" stroke="#222222" stroke-width="1.0"/>
<line x1="585.30" y1="295.20" x2="585.30" y2="327.50" stroke="#222222" stroke-width="1.0"/>
<line x1="585.30" y1="295.70" x2="620.00" y2="295.70" stroke="#222222" stroke-width="1.0"/>
<text x="623.00" y="297.50" font-size="9.2" text-anchor="start" font-style="italic" textLength="39.00" lengthAdjust="spacingAndGlyphs" fill="#1c1c1c" stroke="#1c1c1c" stroke-width="0.18">Siphonalia</text>
<path transform="translate(663.50,286.20) scale(0.9954,1.0184)" d="M4.3,0 L5.4,1.55 L6.65,3.4 L7.6,4.95 L7.45,5.55 L8.8,6.8 L9.75,8.3 L10.65,10.15 L10.85,12 L10.05,13.85 L8.5,15.1 L6.35,15.7 L4.2,16.3 L2.2,16.15 L1.85,14.8 L2.65,13.25 L1.7,11.7 L0.6,10.15 L0,8.3 L0.2,6.45 L1.4,5.25 L2.35,3.7 L3.25,1.85 Z" fill="#551e8c"/>
<line x1="585.30" y1="327.00" x2="622.50" y2="327.00" stroke="#222222" stroke-width="1.0"/>
<text x="626.10" y="329.80" font-size="9.2" text-anchor="start" font-style="italic" textLength="35.40" lengthAdjust="spacingAndGlyphs" fill="#1c1c1c" stroke="#1c1c1c" stroke-width="0.18">Buccinum</text>
<path transform="translate(663.50,317.40) scale(1.0000,0.9850)" d="M3.7,0 L4.85,2 L4.5,2.6 L5.9,4.2 L5.55,4.8 L6.9,6.2 L6.55,6.9 L7.9,8.2 L7.55,9 L8.75,9.85 L9.5,11.7 L9.35,13.85 L8.15,15.7 L6,16.65 L4.45,16.2 L3.2,14.5 L1.65,12.95 L0.1,11.1 L0,9.25 L0.85,8 L1.5,6.8 L1.15,6.1 L2.3,4.6 L2,3.9 L2.9,2.3 L2.9,1.85 Z" fill="#551e8c"/>
<line x1="576.90" y1="342.00" x2="669.90" y2="342.00" stroke="#222222" stroke-width="1.0"/>
<line x1="577.50" y1="342.00" x2="577.50" y2="345.50" stroke="#222222" stroke-width="1.0"/>
<text x="577.50" y="354.60" font-size="6.9" text-anchor="middle" textLength="9.10" lengthAdjust="spacingAndGlyphs" fill="#1c1c1c" stroke="#1c1c1c" stroke-width="0.15">0.4</text>
<line x1="600.48" y1="342.00" x2="600.48" y2="345.50" stroke="#222222" stroke-width="1.0"/>
<text x="600.48" y="354.60" font-size="6.9" text-anchor="middle" textLength="9.10" lengthAdjust="spacingAndGlyphs" fill="#1c1c1c" stroke="#1c1c1c" stroke-width="0.15">0.3</text>
<line x1="623.45" y1="342.00" x2="623.45" y2="345.50" stroke="#222222" stroke-width="1.0"/>
<text x="623.45" y="354.60" font-size="6.9" text-anchor="middle" textLength="9.10" lengthAdjust="spacingAndGlyphs" fill="#1c1c1c" stroke="#1c1c1c" stroke-width="0.15">0.2</text>
<line x1="646.42" y1="342.00" x2="646.42" y2="345.50" stroke="#222222" stroke-width="1.0"/>
<text x="646.42" y="354.60" font-size="6.9" text-anchor="middle" textLength="9.10" lengthAdjust="spacingAndGlyphs" fill="#1c1c1c" stroke="#1c1c1c" stroke-width="0.15">0.1</text>
<line x1="669.40" y1="342.00" x2="669.40" y2="345.50" stroke="#222222" stroke-width="1.0"/>
<text x="669.40" y="354.60" font-size="6.9" text-anchor="middle" textLength="3.70" lengthAdjust="spacingAndGlyphs" fill="#1c1c1c" stroke="#1c1c1c" stroke-width="0.15">0</text>
<rect x="702.4" y="227.2" width="90.80" height="112.10" fill="#ffffff" stroke="#161616" stroke-width="1.1"/>
<path transform="translate(714.85,233.10) scale(1.0000,0.9971)" d="M5.1,0 L6,2.15 L6.8,3.1 L6.45,4 L8,4.6 L7.8,5.85 L8.6,7.1 L10.9,7.4 L9.85,8.95 L10.05,10.8 L8.95,12.65 L7.4,13.55 L6.15,13.85 L5.55,15.4 L4.6,16.95 L3.7,16.65 L3.5,15.1 L3.9,13.55 L3.5,12 L2.75,10.15 L1.25,8.6 L0.3,6.8 L0,4.6 L0.9,4 L2.15,4.3 L3.4,3.1 L4,1.55 Z" fill="#a3304f"/>
<path transform="translate(714.80,258.50) scale(1.1230,1.0323)" d="M4.15,0 L6.8,0.9 L9,2.9 L9.35,5.4 L8.7,10.6 L7.7,15.1 L6.8,17.7 L5.2,18.6 L3.2,18.3 L2.3,16.4 L1.3,11.9 L0.1,6.1 L0.1,3.2 L1.9,1.2 Z" fill="#1a8f45"/>
<path transform="translate(715.20,287.40) scale(1.0211,0.9970)" d="M3.7,0 L4.85,2 L4.5,2.6 L5.9,4.2 L5.55,4.8 L6.9,6.2 L6.55,6.9 L7.9,8.2 L7.55,9 L8.75,9.85 L9.5,11.7 L9.35,13.85 L8.15,15.7 L6,16.65 L4.45,16.2 L3.2,14.5 L1.65,12.95 L0.1,11.1 L0,9.25 L0.85,8 L1.5,6.8 L1.15,6.1 L2.3,4.6 L2,3.9 L2.9,2.3 L2.9,1.85 Z" fill="#551e8c"/>
<path transform="translate(714.60,311.90) scale(1.0182,0.9842)" d="M3.8,0.3 L7.1,0.3 L9.2,5.5 L10.9,10.9 L10.5,13.4 L5,18.9 L0.4,13.9 L0.3,10.5 L1.7,5.5 Z" fill="#ff0a0a"/>
<text x="733.50" y="245.60" font-size="12" text-anchor="start" textLength="46.90" lengthAdjust="spacingAndGlyphs" fill="#1c1c1c" stroke="#1c1c1c" stroke-width="0.15">Muricidae</text>
<text x="733.10" y="272.70" font-size="12" text-anchor="start" textLength="37.80" lengthAdjust="spacingAndGlyphs" fill="#1c1c1c" stroke="#1c1c1c" stroke-width="0.15">Conidae</text>
<text x="733.50" y="299.50" font-size="12" text-anchor="start" textLength="51.00" lengthAdjust="spacingAndGlyphs" fill="#1c1c1c" stroke="#1c1c1c" stroke-width="0.15">Buccinidae</text>
<text x="733.70" y="325.20" font-size="12" text-anchor="start" textLength="50.50" lengthAdjust="spacingAndGlyphs" fill="#1c1c1c" stroke="#1c1c1c" stroke-width="0.15">misaligned</text>
</svg>
</body>
</html>
